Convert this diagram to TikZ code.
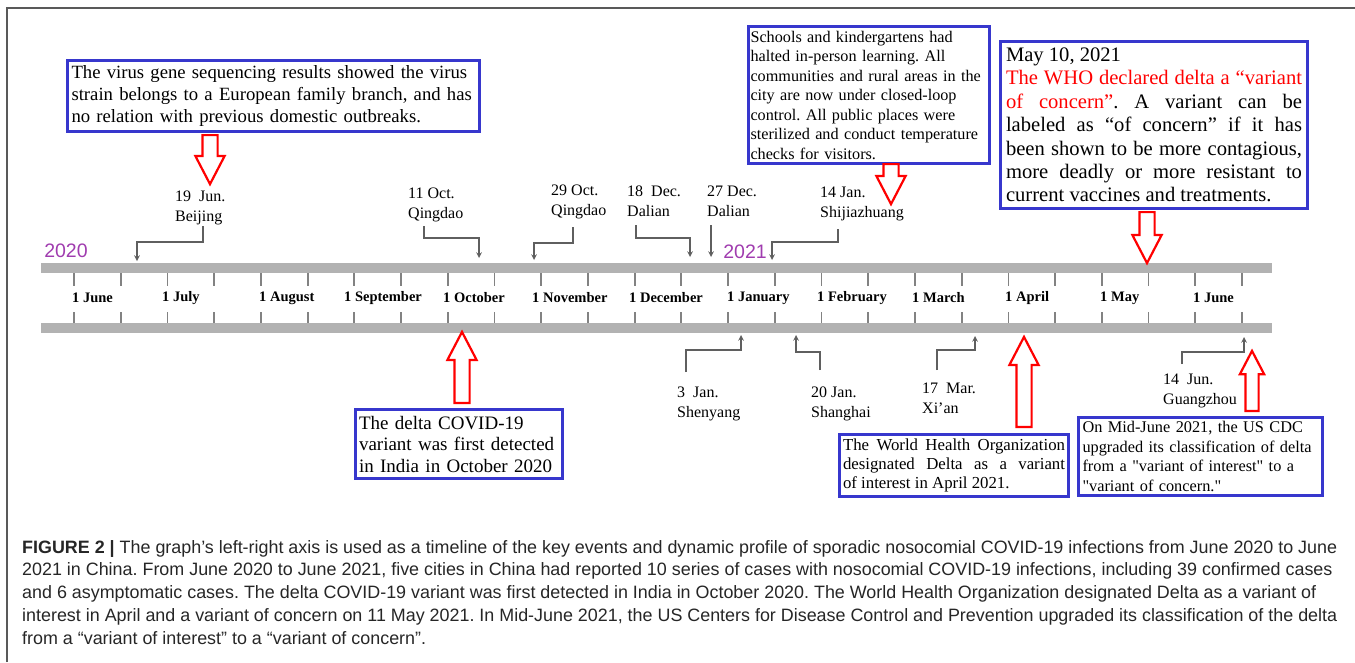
\documentclass[tikz,border=0pt]{standalone}
\usepackage{fontspec}
\setmainfont{Liberation Serif}[Ligatures=TeXOff]
\newfontfamily\capfont{Liberation Sans}
\usetikzlibrary{shapes,arrows}
\definecolor{boxblue}{RGB}{55, 55, 205}
\definecolor{yearpurple}{RGB}{160, 60, 175}
\definecolor{bandgray}{RGB}{178, 178, 178}
\definecolor{tickgray}{RGB}{130, 130, 130}
\definecolor{linkgray}{RGB}{95, 95, 95}
\frenchspacing

\begin{document}
\begin{tikzpicture}[x=1pt,y=-1pt]

\tikzstyle{frame} = [draw=black!65, line width=1.2]
\tikzstyle{band} = [draw=bandgray, line width=9.5]
\tikzstyle{tickmark} = [draw=tickgray, line width=1.8]
\tikzstyle{month} = [anchor=west, inner sep=0, font=\bfseries\fontsize{14.5}{17}\selectfont]
\tikzstyle{year} = [anchor=center, inner sep=0, text=yearpurple, font=\capfont\fontsize{19.5}{22}\selectfont]
\tikzstyle{city} = [anchor=west, inner sep=0, font=\fontsize{16}{20}\selectfont]
\tikzstyle{link} = [draw=linkgray, line width=1.5, -stealth]
\tikzstyle{blue-b} = [draw=boxblue, line width=3, anchor=north west, inner ysep=0]
\tikzstyle{red-arrow} = [single arrow, draw=red, fill=white, line width=2.2, inner xsep=0, inner ysep=6.5,
single arrow head extend=7, single arrow tip angle=55]

\useasboundingbox (0,0) rectangle (1355,662);
\draw[frame] (7,662) -- (7,8) -- (1355,8);

\draw[band] (41,268) -- (1272,268);
\draw[band] (41,328) -- (1272,328);
\foreach \k in {0,...,25} {
\draw[tickmark] ({74+\k*46.72},273) -- ({74+\k*46.72},286);
\draw[tickmark] ({74+\k*46.72},312) -- ({74+\k*46.72},323);
}
\foreach \xx/\m [count=\i] in {72/June, 162/July, 259/August, 344/September, 443/October, 532/November,
629/December, 727/January, 817/February, 912/March, 1005/April, 1100/May, 1193/June}
\node[month] (month\i) at (\xx,298) {1 \m};

\node[year] (y2020) at (66,251) {2020};
\node[year] (y2021) at (745,252) {2021};



\node[city] (beijing) at (175,207) {\begin{tabular}{@{}l@{}}19~~Jun.\\Beijing\end{tabular}};
\node[city] (qingdao-a) at (408,204) {\begin{tabular}{@{}l@{}}11 Oct.\\Qingdao\end{tabular}};
\node[city] (qingdao-b) at (551,201) {\begin{tabular}{@{}l@{}}29 Oct.\\Qingdao\end{tabular}};
\node[city] (dalian-a) at (627,202) {\begin{tabular}{@{}l@{}}18~~Dec.\\Dalian\end{tabular}};
\node[city] (dalian-b) at (707,202) {\begin{tabular}{@{}l@{}}27 Dec.\\Dalian\end{tabular}};
\node[city] (shijiazhuang) at (820,203) {\begin{tabular}{@{}l@{}}14 Jan.\\Shijiazhuang\end{tabular}};
\node[city] (shenyang) at (677,403) {\begin{tabular}{@{}l@{}}3~~Jan.\\Shenyang\end{tabular}};
\node[city] (shanghai) at (811,403) {\begin{tabular}{@{}l@{}}20 Jan.\\Shanghai\end{tabular}};
\node[city] (xian) at (922,399) {\begin{tabular}{@{}l@{}}17~~Mar.\\Xi’an\end{tabular}};
\node[city] (guangzhou) at (1163,390) {\begin{tabular}{@{}l@{}}14~~Jun.\\Guangzhou\end{tabular}};

\coordinate (beijing-s) at (203,226);      \coordinate (beijing-e) at (137,261);
\coordinate (qingdao-a-s) at (424,226);    \coordinate (qingdao-a-e) at (479,258);
\coordinate (qingdao-b-s) at (573,227);    \coordinate (qingdao-b-e) at (534,260);
\coordinate (dalian-a-s) at (636,225);     \coordinate (dalian-a-e) at (690,257);
\coordinate (dalian-b-s) at (711,225);     \coordinate (dalian-b-e) at (711,257);
\coordinate (shijiazhuang-s) at (838,229); \coordinate (shijiazhuang-e) at (772,260);
\coordinate (shenyang-s) at (686,372);     \coordinate (shenyang-e) at (741,335);
\coordinate (shanghai-s) at (820,370);     \coordinate (shanghai-e) at (796,335);
\coordinate (xian-s) at (937,370);         \coordinate (xian-e) at (975,336);
\coordinate (guangzhou-s) at (1182,364);   \coordinate (guangzhou-e) at (1244,337);

\draw[link] (beijing-s) -- ++(0,16) -| (beijing-e);
\draw[link] (qingdao-a-s) -- ++(0,12) -| (qingdao-a-e);
\draw[link] (qingdao-b-s) -- ++(0,16) -| (qingdao-b-e);
\draw[link] (dalian-a-s) -- ++(0,13) -| (dalian-a-e);
\draw[link] (dalian-b-s) -- (dalian-b-e);
\draw[link] (shijiazhuang-s) -- ++(0,13) -| (shijiazhuang-e);
\draw[link] (shenyang-s) -- ++(0,-22) -| (shenyang-e);
\draw[link] (shanghai-s) -- ++(0,-18) -| (shanghai-e);
\draw[link] (xian-s) -- ++(0,-20) -| (xian-e);
\draw[link] (guangzhou-s) -- ++(0,-12) -| (guangzhou-e);



\node[blue-b, minimum width=412, minimum height=71, text width=404, inner xsep=4, align=left,
font=\fontsize{18.7}{22}\selectfont] (box-europe) at (66,59)
{The virus gene sequencing results showed the virus\\strain belongs to a European family branch, and has\\no relation with previous domestic outbreaks.};

\node[blue-b, minimum width=241, minimum height=137, text width=237, inner xsep=2, align=left,
font=\fontsize{16.2}{19.5}\selectfont] (box-school) at (747,25)
{Schools and kindergartens had\\halted in-person learning. All\\communities and rural areas in the\\city are now under closed-loop\\control. All public places were\\sterilized and conduct temperature\\checks for visitors.};

\node[blue-b, minimum width=307, minimum height=167, text width=296, inner xsep=5.5, align=justify,
font=\fontsize{20.6}{23.4}\selectfont] (box-concern) at (999,40)
{May 10, 2021\\\textcolor{red}{The WHO declared delta a “variant\linebreak of concern”}. A variant can be\linebreak labeled as “of concern” if it has\linebreak been shown to be more contagious,\linebreak more deadly or more resistant to\linebreak current vaccines and treatments.};

\node[blue-b, minimum width=207, minimum height=69, text width=200, inner xsep=3.5, align=left,
font=\fontsize{19}{21.5}\selectfont] (box-india) at (354,408)
{The delta COVID-19\\variant was first detected\\in India in October 2020};

\node[blue-b, minimum width=229, minimum height=62, text width=222, inner xsep=3.5, align=justify,
font=\fontsize{16.8}{19}\selectfont] (box-interest) at (838,433)
{The World Health Organization\linebreak designated Delta as a variant\linebreak of interest in April 2021.};

\node[blue-b, minimum width=244, minimum height=78, text width=236, inner xsep=4, align=left,
font=\fontsize{16.3}{19.5}\selectfont] (box-cdc) at (1077,416)
{On Mid-June 2021, the US CDC\\upgraded its classification of delta\\from a "variant of interest" to a\\"variant of concern."};



\node[red-arrow, rotate=-90, anchor=tail, minimum height=49] (arrow-europe) at (210,134) {};
\node[red-arrow, rotate=-90, anchor=tail, minimum height=40] (arrow-school) at (891,163) {};
\node[red-arrow, rotate=-90, anchor=tail, minimum height=51] (arrow-concern) at (1147,211) {};
\node[red-arrow, rotate=90, anchor=tail, minimum height=71] (arrow-india) at (462,404) {};
\node[red-arrow, rotate=90, anchor=tail, minimum height=90] (arrow-interest) at (1024,428) {};
\node[red-arrow, rotate=90, anchor=tail, minimum height=60, inner ysep=5.5, single arrow head extend=5.5] (arrow-cdc) at (1252,412) {};



\node[anchor=north west, inner sep=0, align=left, text=black!85,
font=\capfont\fontsize{17.9}{22.75}\selectfont] (caption) at (22,540)
{\textbf{FIGURE 2 |} The graph’s left-right axis is used as a timeline of the key events and dynamic profile of sporadic nosocomial COVID-19 infections from June 2020 to June\\
2021 in China. From June 2020 to June 2021, five cities in China had reported 10 series of cases with nosocomial COVID-19 infections, including 39 confirmed cases\\
and 6 asymptomatic cases. The delta COVID-19 variant was first detected in India in October 2020. The World Health Organization designated Delta as a variant of\\
interest in April and a variant of concern on 11 May 2021. In Mid-June 2021, the US Centers for Disease Control and Prevention upgraded its classification of the delta\\
from a “variant of interest” to a “variant of concern”.};

\end{tikzpicture}
\end{document}
